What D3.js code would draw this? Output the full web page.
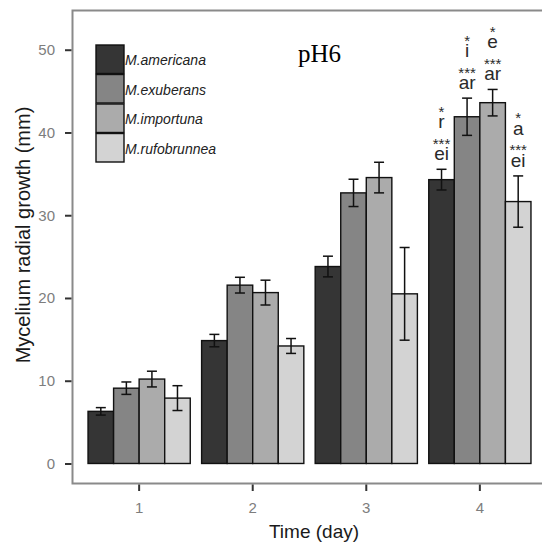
<!DOCTYPE html>
<html>
<head>
<meta charset="utf-8">
<script src="https://cdn.jsdelivr.net/npm/d3@7"></script>
<style>
  body { margin: 0; background: #fff; }
  svg { display: block; }
</style>
</head>
<body>
<script>
var days = ["1", "2", "3", "4"];
var species = ["M.americana", "M.exuberans", "M.importuna", "M.rufobrunnea"];
var colors = ["#353535", "#858585", "#ababab", "#d3d3d3"];

// means per species, one value per day
var americana = [6.3, 14.85, 23.8, 34.3];
var exuberans = [9.1, 21.55, 32.7, 41.9];
var importuna = [10.2, 20.65, 34.55, 43.6];
var rufobrunnea = [7.9, 14.2, 20.5, 31.65];

// standard errors
var americanaErr = [0.45, 0.75, 1.25, 1.25];
var exuberansErr = [0.75, 0.95, 1.65, 2.25];
var importunaErr = [0.95, 1.5, 1.85, 1.6];
var rufobrunneaErr = [1.5, 0.9, 5.6, 3.1];

// significance labels on day 4
var sigTop = ["r", "i", "e", "a"];
var sigBottom = ["ei", "ar", "ar", "ei"];

var yTicks = [0, 10, 20, 30, 40, 50];

var means = [americana, exuberans, importuna, rufobrunnea];
var errs = [americanaErr, exuberansErr, importunaErr, rufobrunneaErr];

var screen = { width: 542, height: 545 };
var panel = { left: 72, right: 548, top: 10, bottom: 484 };
var sans = "Liberation Sans, Arial, sans-serif";

var svg = d3.select("body").append("svg")
  .attr("width", screen.width)
  .attr("height", screen.height);

var xScale = d3.scaleBand()
  .domain(days)
  .range([panel.left - 1, panel.right])
  .paddingInner(0.1)
  .paddingOuter(0.15);

var xInner = d3.scaleBand()
  .domain(species)
  .range([0, xScale.bandwidth()]);

var yScale = d3.scaleLinear()
  .domain([-2.48, 54.8])
  .range([panel.bottom, panel.top]);

// flatten to one record per bar
var bars = [];
days.forEach(function(day, i) {
  species.forEach(function(sp, j) {
    bars.push({ day: day, sp: sp, idx: j, value: means[j][i], err: errs[j][i] });
  });
});

// panel border (top + left + bottom; right side is off the page)
svg.append("path")
  .attr("d", "M" + panel.right + "," + (panel.top + 0.5) + "H" + (panel.left + 0.5) +
             "V" + (panel.bottom - 0.5) + "H" + panel.right)
  .attr("fill", "none")
  .attr("stroke", "#8a8a8a")
  .attr("stroke-width", 2);

// bars
svg.append("g").attr("class", "bars")
  .selectAll("rect")
  .data(bars)
  .enter()
  .append("rect")
  .attr("x", function(d) { return xScale(d.day) + xInner(d.sp); })
  .attr("y", function(d) { return yScale(d.value); })
  .attr("width", xInner.bandwidth())
  .attr("height", function(d) { return yScale(0) - yScale(d.value); })
  .attr("fill", function(d) { return colors[d.idx]; })
  .attr("stroke", "#111")
  .attr("stroke-width", 1.4);

// error bars
var eb = svg.append("g").attr("class", "errorbars")
  .selectAll("g")
  .data(bars)
  .enter()
  .append("g")
  .attr("transform", function(d) {
    return "translate(" + (xScale(d.day) + xInner(d.sp) + xInner.bandwidth() / 2) + ",0)";
  });

eb.append("line")
  .attr("x1", 0).attr("x2", 0)
  .attr("y1", function(d) { return yScale(d.value + d.err); })
  .attr("y2", function(d) { return yScale(d.value - d.err); });
eb.append("line")
  .attr("x1", -5).attr("x2", 5)
  .attr("y1", function(d) { return yScale(d.value + d.err); })
  .attr("y2", function(d) { return yScale(d.value + d.err); });
eb.append("line")
  .attr("x1", -5).attr("x2", 5)
  .attr("y1", function(d) { return yScale(d.value - d.err); })
  .attr("y2", function(d) { return yScale(d.value - d.err); });
eb.selectAll("line").attr("stroke", "#111").attr("stroke-width", 1.5);

// significance annotations over day 4
var day4 = bars.filter(function(d) { return d.day === "4"; });
var ann = svg.append("g").attr("class", "annotations")
  .selectAll("g")
  .data(day4)
  .enter()
  .append("g")
  .attr("transform", function(d) {
    var cx = xScale(d.day) + xInner(d.sp) + xInner.bandwidth() / 2;
    return "translate(" + cx + "," + (yScale(d.value + d.err) - 9) + ")";
  })
  .attr("font-family", sans)
  .attr("fill", "#2a2a2a")
  .attr("text-anchor", "middle");

ann.append("text").attr("y", 0).attr("font-size", 19)
  .text(function(d) { return sigBottom[d.idx]; });
ann.append("text").attr("y", -11.5).attr("font-size", 15)
  .text("***");
ann.append("text").attr("y", -32).attr("font-size", 19)
  .text(function(d) { return sigTop[d.idx]; });
ann.append("text").attr("y", -43.5).attr("font-size", 15)
  .text("*");

// y axis
var yAxis = d3.axisLeft(yScale)
  .tickValues(yTicks)
  .tickSize(6.5)
  .tickPadding(10);

var yG = svg.append("g")
  .attr("class", "yAxis")
  .attr("transform", "translate(" + (panel.left - 0.5) + ",0)")
  .call(yAxis);
yG.select(".domain").remove();
yG.selectAll(".tick line").attr("stroke", "#333").attr("stroke-width", 2);
yG.selectAll(".tick text")
  .attr("fill", "#7d7d7d")
  .attr("font-size", 15)
  .attr("font-family", sans);

// x axis
var xAxis = d3.axisBottom(xScale)
  .tickSize(6.5)
  .tickPadding(11);

var xG = svg.append("g")
  .attr("class", "xAxis")
  .attr("transform", "translate(0," + (panel.bottom + 0.5) + ")")
  .call(xAxis);
xG.select(".domain").remove();
xG.selectAll(".tick line").attr("stroke", "#333").attr("stroke-width", 2);
xG.selectAll(".tick text")
  .attr("fill", "#7d7d7d")
  .attr("font-size", 15)
  .attr("font-family", sans);

// axis titles
svg.append("text")
  .attr("x", 314)
  .attr("y", 538)
  .attr("text-anchor", "middle")
  .attr("font-size", 19)
  .attr("font-family", sans)
  .attr("fill", "#1a1a1a")
  .text("Time (day)");

svg.append("text")
  .attr("transform", "translate(30,235) rotate(-90)")
  .attr("text-anchor", "middle")
  .attr("font-size", 20)
  .attr("font-family", sans)
  .attr("fill", "#1a1a1a")
  .text("Mycelium radial growth (mm)");

// legend
var legend = svg.append("g")
  .attr("class", "legend")
  .attr("transform", "translate(96,45)")
  .selectAll("g")
  .data(species)
  .enter()
  .append("g")
  .attr("transform", function(d, i) { return "translate(0," + (i * 29.5) + ")"; });

legend.append("rect")
  .attr("width", 28)
  .attr("height", 28.5)
  .attr("fill", function(d, i) { return colors[i]; })
  .attr("stroke", "#111")
  .attr("stroke-width", 1.4);

legend.append("text")
  .attr("x", 29)
  .attr("y", 20)
  .attr("font-size", 14)
  .attr("font-style", "italic")
  .attr("font-family", sans)
  .attr("fill", "#222")
  .text(function(d) { return d; });

// panel label
svg.append("text")
  .attr("x", 298)
  .attr("y", 62)
  .attr("font-size", 25)
  .attr("font-family", "Liberation Serif, Times New Roman, serif")
  .attr("fill", "#000")
  .text("pH6");
</script>
</body>
</html>
